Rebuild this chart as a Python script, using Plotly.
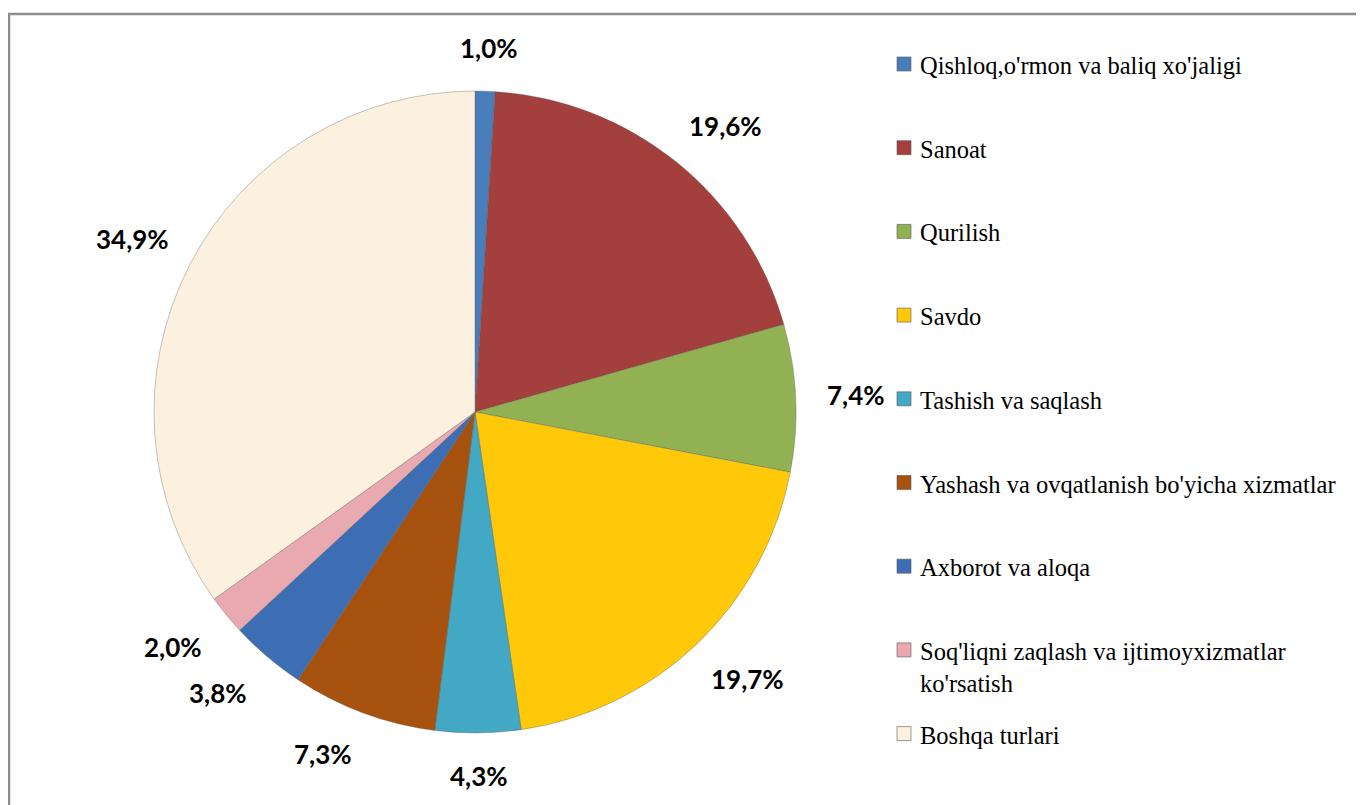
import math
import plotly.graph_objects as go

categories = [
    "Qishloq,o'rmon va baliq xo'jaligi",
    "Sanoat",
    "Qurilish",
    "Savdo",
    "Tashish va saqlash",
    "Yashash va ovqatlanish bo'yicha xizmatlar",
    "Axborot va aloqa",
    "Soq'liqni zaqlash va ijtimoyxizmatlar<br>ko'rsatish",
    "Boshqa turlari",
]
values = [1.0, 19.6, 7.4, 19.7, 4.3, 7.3, 3.8, 2.0, 34.9]
colors = ["#4A7EBB", "#A33F3C", "#92B152", "#FFC90A", "#43A8C4",
          "#A8520F", "#3D6DB3", "#E8A9B0", "#FBF1DE"]

W, H = 1364, 805
OFF = 8  # page body margin shifts the figure by 8px
cx, cy, r = 475 - OFF, 412 - OFF, 321

fig = go.Figure()
fig.add_trace(go.Pie(
    labels=categories,
    values=values,
    sort=False,
    direction="clockwise",
    rotation=0,
    textinfo="none",
    hoverinfo="label+percent",
    marker=dict(colors=colors, line=dict(color="rgba(90,90,90,0.35)", width=1)),
    domain=dict(x=[(cx - r) / W, (cx + r) / W], y=[1 - (cy + r) / H, 1 - (cy - r) / H]),
    showlegend=False,
))

annotations = []
shapes = []

# data labels around the pie
total = sum(values)
cum = 0.0
gap, lw, lh = 30, 60, 26
for v in values:
    mid = (cum + v / 2) / total * 2 * math.pi
    cum += v
    ux, uy = math.sin(mid), -math.cos(mid)
    px = cx + ux * (r + gap) + lw / 2 * max(-1, min(1, 3 * ux))
    py = cy + uy * (r + gap) + lh / 2 * max(-1, min(1, 3 * uy))
    annotations.append(dict(
        x=px / W, y=1 - py / H, xref="paper", yref="paper",
        text=f"{v:.1f}".replace(".", ",") + "%",
        showarrow=False, xanchor="center", yanchor="middle",
        font=dict(family="Lato", size=26, color="#000000", weight="bold"),
    ))

# manual legend
leg_top, leg_step = 64 - OFF, 83.7
for i, (name, col) in enumerate(zip(categories, colors)):
    yc = leg_top + i * leg_step
    shapes.append(dict(
        type="rect", xref="paper", yref="paper",
        x0=(897 - OFF) / W, x1=(911 - OFF) / W, y0=1 - (yc + 7) / H, y1=1 - (yc - 7) / H,
        fillcolor=col, line=dict(color="rgba(90,90,90,0.6)", width=1),
    ))
    annotations.append(dict(
        x=(918 - OFF) / W, y=1 - (yc - 14) / H, xref="paper", yref="paper",
        text=name, showarrow=False, xanchor="left", yanchor="top", align="left",
        font=dict(family="Liberation Serif", size=24.5, color="#000000"),
    ))

# outer frame
shapes.append(dict(
    type="rect", xref="paper", yref="paper",
    x0=1 / W, x1=1.02, y0=-0.02, y1=1 - 6 / H,
    line=dict(color="#8C8C8C", width=2.5), fillcolor="rgba(0,0,0,0)",
))

fig.update_layout(
    width=W, height=H,
    margin=dict(l=0, r=0, t=0, b=0),
    paper_bgcolor="white", plot_bgcolor="white",
    annotations=annotations, shapes=shapes,
)
fig.write_html("out.html")
